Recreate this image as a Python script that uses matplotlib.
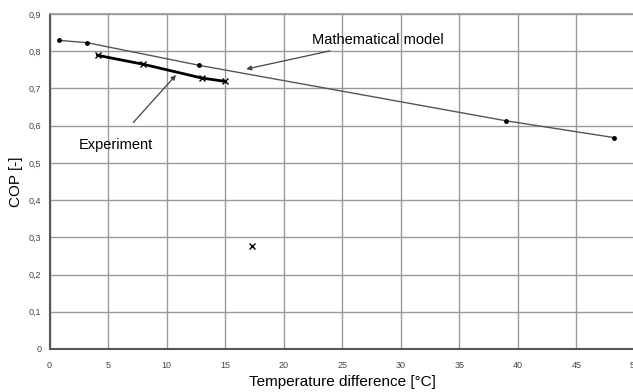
import matplotlib.pyplot as plt

# dados
model_dt = [0.85, 3.2, 12.8, 39.0, 48.2]
model_cop = [0.829, 0.823, 0.762, 0.613, 0.568]
exp_dt = [4.1, 8.0, 13.0, 15.0]
exp_cop = [0.789, 0.765, 0.728, 0.719]
outlier_dt = [17.3]
outlier_cop = [0.278]

plt.rcParams['font.family'] = ['Liberation Sans', 'DejaVu Sans']

fig = plt.figure(figsize=(6.33, 3.92), dpi=100)
ax = fig.add_axes([0.0782, 0.1097, 0.925, 0.8546])

ax.plot(model_dt, model_cop, color='#555555', lw=1.0, marker='o', ms=2.5,
        mfc='black', mec='black')
ax.plot(exp_dt, exp_cop, color='black', lw=2.0, marker='x', ms=5, mew=1.0)
ax.plot(outlier_dt, outlier_cop, ls='none', color='black', marker='x', ms=5, mew=1.0)

ax.set_xlim(0, 50)
ax.set_ylim(0, 0.9)
ax.set_xticks(range(0, 51, 5))
ax.set_yticks([i / 10 for i in range(10)])
ax.set_yticklabels(['0'] + ['0,%d' % i for i in range(1, 10)])
ax.tick_params(labelsize=6.5, colors='#444444', length=0)
ax.tick_params(axis='x', pad=9)
ax.tick_params(axis='y', pad=6)
ax.grid(True, color='#999999', lw=1.0)
ax.set_axisbelow(True)
for s in ['left', 'bottom']:
    ax.spines[s].set_color('#555555')
    ax.spines[s].set_linewidth(1.5)
for s in ['top', 'right']:
    ax.spines[s].set_color('#999999')
    ax.spines[s].set_linewidth(1.2)

ax.set_xlabel('Temperature difference [°C]', fontsize=11, color='black', labelpad=3)
ax.set_ylabel('COP [-]', fontsize=11, color='black', labelpad=4)

ax.annotate('Mathematical model', xy=(16.8, 0.752), xytext=(22.4, 0.81),
            fontsize=10.5, color='black', va='bottom',
            arrowprops=dict(arrowstyle='-|>', color='#444444', lw=0.9,
                            mutation_scale=7, shrinkA=2, shrinkB=0))
ax.annotate('Experiment', xy=(10.8, 0.736), xytext=(2.5, 0.53),
            fontsize=10.5, color='black', va='bottom',
            arrowprops=dict(arrowstyle='-|>', color='#444444', lw=0.9,
                            mutation_scale=7, shrinkA=12, shrinkB=0,
                            relpos=(0.55, 1)))

fig.savefig('out.png', dpi=100)
